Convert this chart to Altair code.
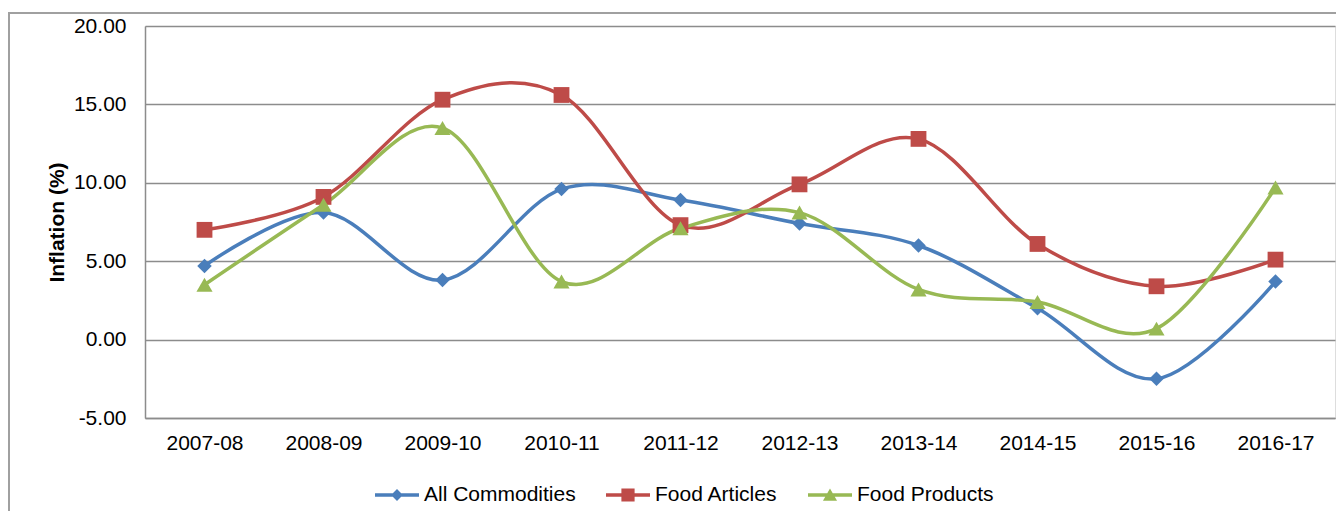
import altair as alt
import pandas as pd

years = ["2007-08", "2008-09", "2009-10", "2010-11", "2011-12",
         "2012-13", "2013-14", "2014-15", "2015-16", "2016-17"]
all_commodities = [4.7, 8.1, 3.8, 9.6, 8.9, 7.4, 6.0, 2.0, -2.5, 3.7]
food_articles = [7.0, 9.1, 15.3, 15.6, 7.3, 9.9, 12.8, 6.1, 3.4, 5.1]
food_products = [3.5, 8.6, 13.5, 3.7, 7.1, 8.1, 3.2, 2.4, 0.7, 9.7]

series_names = ["All Commodities", "Food Articles", "Food Products"]
series_values = [all_commodities, food_articles, food_products]
colors = ["#4A7EBB", "#BE4B48", "#98B954"]
marker_shapes = ["diamond", "square", "triangle-up"]
marker_sizes = [210, 250, 260]
y_ticks = [-5, 0, 5, 10, 15, 20]

FONT = "Liberation Sans"
FS = 21
GRID = "#8c8c8c"

rows = []
for name, vals in zip(series_names, series_values):
    for i, (yr, v) in enumerate(zip(years, vals)):
        rows.append({"year": yr, "idx": i, "series": name, "value": v})
df = pd.DataFrame(rows)

# legend symbols: a short line plus the marker (custom paths in [-1,1])
line_part = "M-1,-0.075L1,-0.075L1,0.075L-1,0.075Z"
legend_paths = [
    line_part + "M0,-0.27L0.27,0L0,0.27L-0.27,0Z",
    line_part + "M-0.3,-0.3L0.3,-0.3L0.3,0.3L-0.3,0.3Z",
    line_part + "M0,-0.3L0.32,0.26L-0.32,0.26Z",
]

x_enc = alt.X(
    "year:O", sort=years, scale=alt.Scale(domain=years),
    axis=alt.Axis(title=None, labelAngle=0, labelFont=FONT, labelFontSize=FS,
                  labelColor="black", labelPadding=14, ticks=False,
                  domain=True, domainColor=GRID, domainWidth=1.5, grid=False),
)
y_enc = alt.Y(
    "value:Q", scale=alt.Scale(domain=[-5, 20], nice=False, zero=False),
    axis=alt.Axis(values=y_ticks,
                  labelExpr="(datum.value < 0 ? '-' : '') + format(abs(datum.value), '.2f')",
                  title="Inflation (%)",
                  titleFont=FONT, titleFontSize=FS, titleFontWeight="bold",
                  titleColor="black", titleX=-78, titleY=196,
                  labelFont=FONT, labelFontSize=FS, labelColor="black",
                  labelPadding=19, ticks=False, domain=True,
                  domainColor=GRID, domainWidth=1.5,
                  grid=True, gridColor=GRID, gridWidth=1.5),
)
color_scale = alt.Scale(domain=series_names, range=colors)

base = alt.Chart(df)

lines = base.mark_line(interpolate="cardinal", tension=0, strokeWidth=3.5).encode(
    x=x_enc, y=y_enc,
    color=alt.Color("series:N", scale=color_scale, legend=None),
    order="idx:Q",
)

marker_layers = []
for name, shp, sz in zip(series_names, marker_shapes, marker_sizes):
    marker_layers.append(
        base.transform_filter(alt.datum.series == name)
        .mark_point(shape=shp, filled=True, size=sz, opacity=1)
        .encode(x=x_enc, y=y_enc,
                color=alt.Color("series:N", scale=color_scale, legend=None))
    )

legend_spec = alt.Legend(
    title=None, orient="none", legendX=229, legendY=446, direction="horizontal",
    labelFont=FONT, labelFontSize=FS, labelColor="black", labelOffset=4,
    symbolSize=1936, columnPadding=27, padding=0, symbolOpacity=1,
)
legend_layer = (
    base.mark_point(filled=True, opacity=0)
    .encode(
        x=x_enc, y=y_enc,
        color=alt.Color("series:N", scale=color_scale, legend=legend_spec),
        shape=alt.Shape("series:N",
                        scale=alt.Scale(domain=series_names, range=legend_paths),
                        legend=legend_spec),
    )
)

frame_data = alt.Data(values=[{"k": 1}])
frame_top = alt.Chart(frame_data).mark_rule(color="#a0a0a0", strokeWidth=2).encode(
    x=alt.value(-137), x2=alt.value(1191), y=alt.value(-13))
frame_left = alt.Chart(frame_data).mark_rule(color="#a0a0a0", strokeWidth=2).encode(
    x=alt.value(-136), y=alt.value(-13), y2=alt.value(500))

plot = alt.layer(lines, *marker_layers)

chart = (
    alt.layer(frame_top, frame_left, plot, legend_layer)
    .resolve_scale(color="independent", shape="independent")
    .resolve_legend(color="independent", shape="independent")
    .properties(
        width=1190, height=392,
        padding={"left": 137, "top": 18, "right": 1, "bottom": 93},
        autosize=alt.AutoSizeParams(type="none"),
    )
    .configure_view(strokeWidth=0)
    .configure(background="white")
)

chart.save("out.html", embed_options={"renderer": "svg", "actions": False})
